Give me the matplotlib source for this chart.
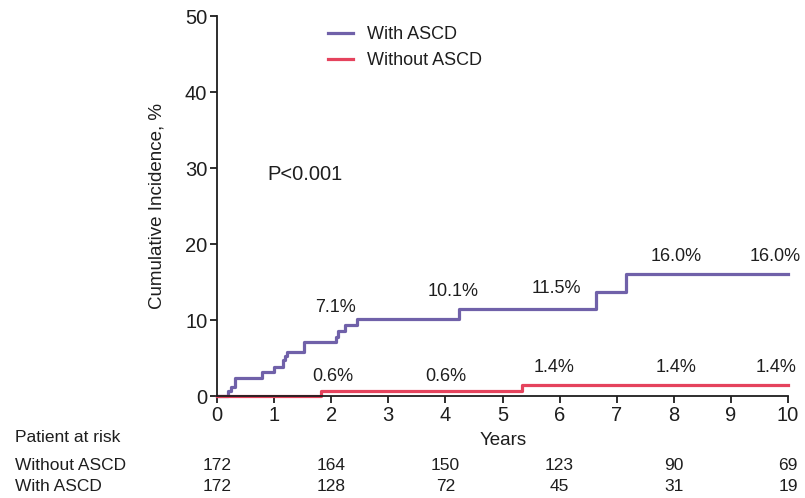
import matplotlib
matplotlib.use('Agg')
import matplotlib.pyplot as plt
from matplotlib.transforms import blended_transform_factory

plt.rcParams['font.family'] = ['Liberation Sans', 'DejaVu Sans']

# step curves (years, cumulative incidence %)
with_t = [0, 0.19, 0.24, 0.32, 0.79, 1.0, 1.16, 1.19, 1.23, 1.52, 2.08, 2.12, 2.25, 2.46, 4.24, 6.63, 7.16, 10]
with_y = [0, 0.6, 1.2, 2.4, 3.1, 3.8, 4.7, 5.2, 5.8, 7.1, 7.7, 8.6, 9.3, 10.1, 11.5, 13.7, 16.0, 16.0]
without_t = [0, 1.83, 5.34, 10]
without_y = [0, 0.6, 1.4, 1.4]

# annotated percentages
with_lbl_t = [2.07, 4.13, 5.95, 8.04, 9.77]
with_lbl = ['7.1%', '10.1%', '11.5%', '16.0%', '16.0%']
without_lbl_t = [2.03, 4.01, 5.9, 8.04, 9.79]
without_lbl = ['0.6%', '0.6%', '1.4%', '1.4%', '1.4%']

# patients at risk
risk_times = [0, 2, 4, 6, 8, 10]
risk_without = [172, 164, 150, 123, 90, 69]
risk_with = [172, 128, 72, 45, 31, 19]

purple = '#7061A9'
red = '#E5435D'
ink = '#1e1e1e'

fig = plt.figure(figsize=(8.05, 4.98), dpi=100)
ax = fig.add_axes([217 / 805, 1 - 396 / 498, 571 / 805, 380 / 498])

ax.step(with_t, with_y, where='post', color=purple, lw=2.3, label='With ASCD', clip_on=False)
ax.step(without_t, without_y, where='post', color=red, lw=2.3, label='Without ASCD', clip_on=False)

lbl_y_with = [11.6, 13.7, 14.2, 18.3, 18.3]
lbl_y_without = [2.6, 2.6, 3.7, 3.7, 3.7]
for t, s, yy in zip(with_lbl_t, with_lbl, lbl_y_with):
    ax.text(t, yy, s, fontsize=13, ha='center', va='center', color=ink)
for t, s, yy in zip(without_lbl_t, without_lbl, lbl_y_without):
    ax.text(t, yy, s, fontsize=13, ha='center', va='center', color=ink)

ax.text(0.89, 29.1, 'P<0.001', fontsize=14.5, ha='left', va='center', color=ink)

ax.set_xlim(0, 10)
ax.set_ylim(0, 50)
ax.set_xticks(range(0, 11))
ax.set_yticks(range(0, 51, 10))
ax.tick_params(axis='both', direction='out', length=5, width=1.3, labelsize=14.5, colors=ink)
ax.tick_params(axis='x', pad=2)
ax.tick_params(axis='y', pad=2)
for side in ['top', 'right']:
    ax.spines[side].set_visible(False)
for side in ['left', 'bottom']:
    ax.spines[side].set_linewidth(1.3)
    ax.spines[side].set_color(ink)

ax.set_ylabel('Cumulative Incidence, %', fontsize=13.5, color=ink)
ax.yaxis.set_label_coords(-0.09, 0.5)

leg = ax.legend(loc='upper left', bbox_to_anchor=(328 / 805, 1 - 26 / 498),
                bbox_transform=fig.transFigure, frameon=False, fontsize=13,
                handlelength=1.4, handletextpad=0.75, labelspacing=0.5,
                borderpad=0, borderaxespad=0)
for txt in leg.get_texts():
    txt.set_color(ink)

# years label and risk table
fig.text(503 / 805, 1 - 440 / 498, 'Years', fontsize=13.5, ha='center', va='center', color=ink)
fig.text(15 / 805, 1 - 437 / 498, 'Patient at risk', fontsize=12.5, ha='left', va='center', color=ink)
fig.text(15 / 805, 1 - 465 / 498, 'Without ASCD', fontsize=12.5, ha='left', va='center', color=ink)
fig.text(15 / 805, 1 - 486 / 498, 'With ASCD', fontsize=12.5, ha='left', va='center', color=ink)

trans = blended_transform_factory(ax.transData, fig.transFigure)
for t, a, b in zip(risk_times, risk_without, risk_with):
    ax.text(t, 1 - 465 / 498, str(a), transform=trans, fontsize=12.5, ha='center', va='center',
            color=ink, clip_on=False)
    ax.text(t, 1 - 486 / 498, str(b), transform=trans, fontsize=12.5, ha='center', va='center',
            color=ink, clip_on=False)

fig.savefig('out.png', dpi=100)
